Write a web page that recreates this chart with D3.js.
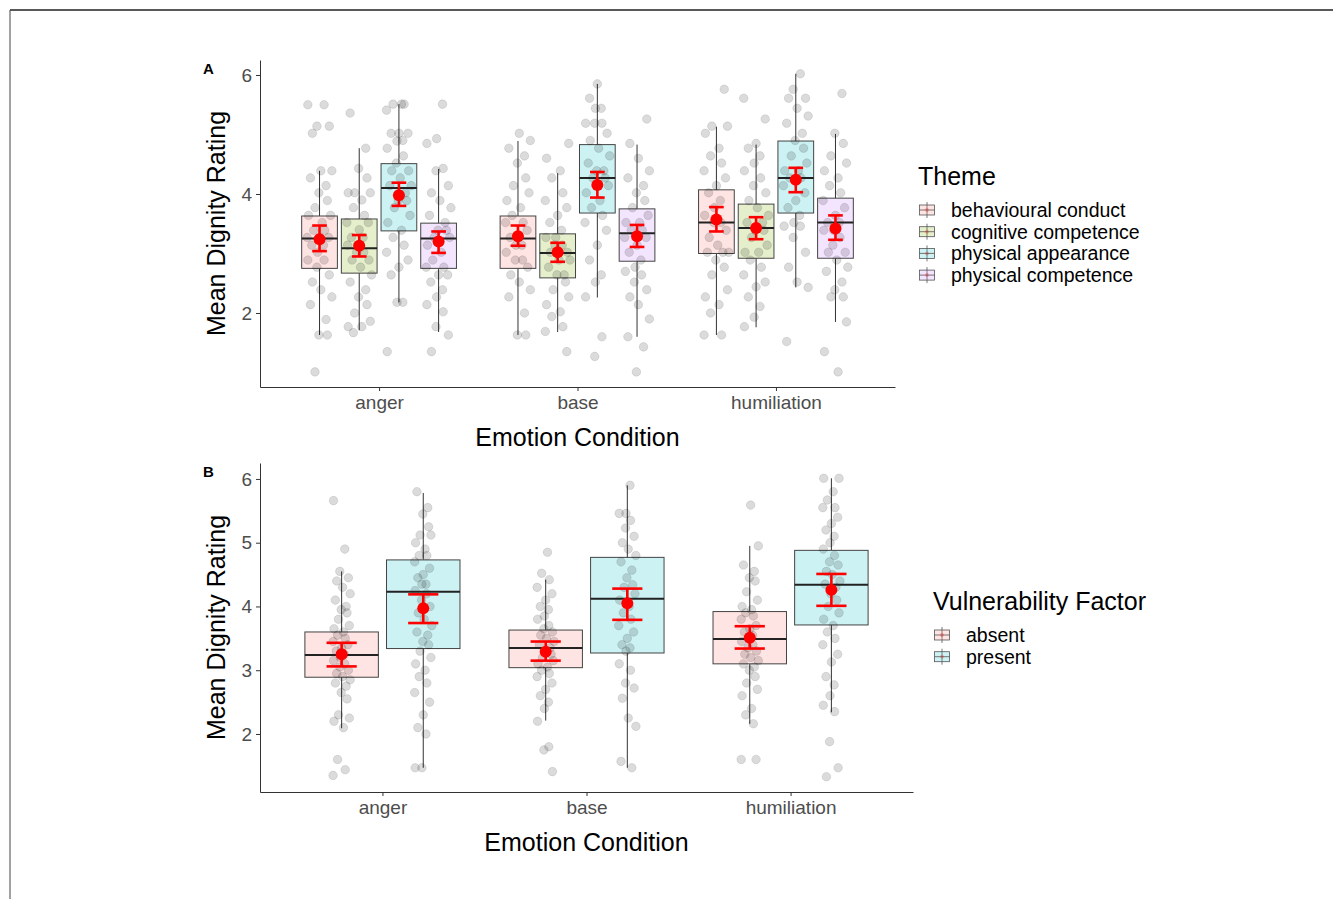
<!DOCTYPE html>
<html lang="en">
<head>
    <meta charset="UTF-8">
    <title>Mean Dignity Rating by Emotion Condition</title>
    <style>
        body {
            margin: 0;
            background: #fff;
            font-family: "Liberation Sans", Arial, sans-serif;
        }
        .tick text {
            fill: #4d4d4d;
            font-size: 19px;
        }
        .tick line, .domain {
            stroke: #333;
        }
        .axis-title {
            font-size: 25px;
            fill: #000;
        }
        .legend-text {
            font-size: 19.5px;
            fill: #000;
        }
    </style>
</head>
<body>
    <svg id="chart" width="1333" height="899"></svg>

    <script src="https://d3js.org/d3.v7.min.js"></script>
    <script>
        // categories
        const emotions = ["anger", "base", "humiliation"];
        const themes = ["behavioural conduct", "cognitive competence", "physical appearance", "physical competence"];
        const vulnLevels = ["absent", "present"];

        const themeColors = ["#F8766D", "#7CAE00", "#00BFC4", "#C77CFF"];
        const vulnColors = ["#F8766D", "#00BFC4"];

        // panel A box stats [emotion][theme]
        const aWhiskLo = [[1.63, 1.71, 2.18, 1.68], [1.63, 1.68, 2.26, 1.60], [1.63, 1.76, 2.43, 1.85]];
        const aQ1 = [[2.75, 2.67, 3.38, 2.75], [2.75, 2.59, 3.68, 2.87], [3.00, 2.92, 3.68, 2.92]];
        const aMed = [[3.25, 3.09, 4.10, 3.25], [3.25, 3.01, 4.27, 3.34], [3.52, 3.43, 4.27, 3.52]];
        const aQ3 = [[3.63, 3.58, 4.51, 3.51], [3.63, 3.33, 4.83, 3.75], [4.07, 3.83, 4.89, 3.93]];
        const aWhiskHi = [[4.39, 4.77, 5.51, 4.42], [4.89, 4.35, 5.85, 4.83], [5.13, 4.83, 6.02, 5.01]];
        const aMean = [[3.24, 3.13, 3.98, 3.20], [3.29, 3.02, 4.15, 3.29], [3.57, 3.43, 4.24, 3.42]];
        const aCiLo = [[3.04, 2.95, 3.80, 3.01], [3.13, 2.86, 3.94, 3.11], [3.37, 3.24, 4.03, 3.23]];
        const aCiHi = [[3.47, 3.31, 4.19, 3.37], [3.47, 3.18, 4.37, 3.48], [3.78, 3.61, 4.44, 3.64]];

        // panel A individual ratings [emotion][theme]
        const aPoints = [
            [
                [5.5, 5.5, 5.14, 5.14, 5.02, 4.39, 4.39, 4.27, 4.14, 4.02, 3.89, 3.77, 3.64, 3.64, 3.52, 3.39, 3.39, 3.27, 3.27, 3.27, 3.14, 3.14, 3.02, 2.89, 2.89, 2.77, 2.64, 2.52, 2.39, 2.27, 2.14, 1.89, 1.63, 1.63, 1.01],
                [5.36, 4.77, 4.43, 4.27, 4.02, 4.02, 4.02, 3.9, 3.77, 3.64, 3.52, 3.52, 3.4, 3.27, 3.27, 3.14, 3.14, 3.02, 3.02, 2.89, 2.89, 2.77, 2.64, 2.52, 2.39, 2.27, 2.14, 2.0, 1.86, 1.77, 1.77, 1.67],
                [5.51, 5.51, 5.51, 5.41, 5.02, 5.02, 5.02, 4.9, 4.89, 4.77, 4.64, 4.52, 4.39, 4.39, 4.27, 4.14, 4.14, 4.02, 3.89, 3.89, 3.77, 3.64, 3.52, 3.39, 3.27, 3.14, 3.02, 2.89, 2.77, 2.64, 2.18, 2.18, 1.35],
                [5.51, 4.93, 4.85, 4.43, 4.39, 4.14, 4.02, 3.89, 3.77, 3.64, 3.52, 3.39, 3.39, 3.27, 3.27, 3.14, 3.02, 2.89, 2.77, 2.77, 2.64, 2.64, 2.52, 2.39, 2.27, 2.14, 2.02, 1.77, 1.63, 1.35]
            ],
            [
                [5.02, 4.9, 4.77, 4.64, 4.52, 4.27, 4.14, 4.02, 3.89, 3.77, 3.64, 3.52, 3.52, 3.39, 3.27, 3.27, 3.14, 3.14, 3.02, 2.89, 2.89, 2.77, 2.64, 2.52, 2.39, 2.27, 2.0, 1.63, 1.63],
                [4.85, 4.6, 4.39, 4.27, 4.02, 3.89, 3.77, 3.64, 3.52, 3.39, 3.27, 3.27, 3.14, 3.14, 3.02, 3.02, 2.89, 2.89, 2.77, 2.64, 2.64, 2.52, 2.39, 2.27, 2.14, 2.02, 1.94, 1.77, 1.69, 1.35],
                [5.85, 5.61, 5.44, 5.44, 5.19, 5.19, 5.19, 5.02, 4.9, 4.77, 4.64, 4.52, 4.39, 4.39, 4.27, 4.27, 4.14, 4.02, 3.89, 3.77, 3.64, 3.52, 3.39, 3.14, 2.89, 2.64, 2.52, 2.27, 1.6, 1.27],
                [5.26, 4.85, 4.6, 4.39, 4.27, 4.14, 4.02, 3.89, 3.77, 3.64, 3.52, 3.52, 3.39, 3.39, 3.27, 3.27, 3.14, 3.02, 2.89, 2.77, 2.7, 2.64, 2.52, 2.39, 2.27, 2.14, 1.9, 1.6, 1.43, 1.01]
            ],
            [
                [5.76, 5.14, 5.14, 5.02, 4.77, 4.64, 4.52, 4.39, 4.27, 4.14, 4.02, 3.89, 3.77, 3.64, 3.52, 3.52, 3.39, 3.27, 3.14, 3.02, 3.02, 3.02, 2.89, 2.77, 2.64, 2.39, 2.27, 2.14, 2.0, 1.63, 1.63],
                [5.61, 5.26, 4.85, 4.77, 4.64, 4.52, 4.39, 4.27, 4.14, 4.02, 3.89, 3.77, 3.64, 3.52, 3.52, 3.39, 3.39, 3.27, 3.14, 3.02, 3.02, 2.89, 2.77, 2.64, 2.52, 2.44, 2.27, 2.11, 1.93, 1.77],
                [6.02, 5.76, 5.61, 5.61, 5.44, 5.31, 5.19, 5.02, 4.9, 4.77, 4.64, 4.52, 4.39, 4.39, 4.27, 4.27, 4.14, 4.02, 3.89, 3.77, 3.64, 3.52, 3.46, 3.46, 3.27, 3.02, 2.77, 2.52, 2.43, 1.52],
                [5.69, 5.02, 4.85, 4.64, 4.52, 4.39, 4.27, 4.14, 4.02, 3.89, 3.77, 3.64, 3.52, 3.52, 3.39, 3.39, 3.27, 3.14, 3.02, 3.02, 2.89, 2.77, 2.7, 2.52, 2.39, 2.27, 2.27, 1.85, 1.35, 1.01]
            ]
        ];

        // panel B box stats [emotion][level]
        const bWhiskLo = [[2.09, 1.47], [2.21, 1.47], [2.16, 2.34]];
        const bQ1 = [[2.89, 3.34], [3.04, 3.27], [3.10, 3.71]];
        const bMed = [[3.24, 4.23], [3.35, 4.12], [3.49, 4.34]];
        const bQ3 = [[3.60, 4.73], [3.63, 4.77], [3.92, 4.88]];
        const bWhiskHi = [[4.55, 5.78], [4.42, 5.90], [4.95, 6.01]];
        const bMean = [[3.25, 3.97], [3.29, 4.05], [3.51, 4.26]];
        const bCiLo = [[3.06, 3.74], [3.15, 3.79], [3.34, 4.01]];
        const bCiHi = [[3.43, 4.19], [3.45, 4.28], [3.69, 4.51]];

        const bPoints = [
            [
                [5.66, 4.9, 4.55, 4.45, 4.4, 4.3, 4.2, 4.1, 4.0, 3.95, 3.9, 3.8, 3.7, 3.65, 3.6, 3.55, 3.5, 3.45, 3.4, 3.35, 3.3, 3.25, 3.2, 3.15, 3.1, 3.05, 3.0, 2.95, 2.9, 2.85, 2.8, 2.75, 2.65, 2.55, 2.3, 2.25, 2.2, 2.1, 1.6, 1.44, 1.35],
                [5.8, 5.55, 5.45, 5.25, 5.12, 5.12, 5.0, 4.9, 4.8, 4.8, 4.7, 4.6, 4.5, 4.45, 4.35, 4.35, 4.25, 4.2, 4.1, 4.0, 3.9, 3.8, 3.7, 3.6, 3.55, 3.45, 3.4, 3.3, 3.2, 3.1, 3.0, 2.9, 2.8, 2.65, 2.5, 2.3, 2.1, 2.0, 1.47, 1.47]
            ],
            [
                [4.85, 4.52, 4.42, 4.3, 4.2, 4.1, 4.0, 3.95, 3.85, 3.8, 3.7, 3.65, 3.6, 3.55, 3.5, 3.45, 3.4, 3.35, 3.3, 3.25, 3.2, 3.15, 3.1, 3.05, 3.0, 2.95, 2.9, 2.8, 2.7, 2.6, 2.5, 2.4, 2.2, 1.8, 1.75, 1.41],
                [5.9, 5.46, 5.46, 5.35, 5.23, 5.1, 5.0, 4.9, 4.8, 4.7, 4.57, 4.45, 4.34, 4.3, 4.2, 4.1, 4.0, 3.9, 3.8, 3.7, 3.6, 3.5, 3.4, 3.35, 3.3, 3.1, 3.0, 2.8, 2.72, 2.56, 2.25, 2.12, 1.57, 1.47]
            ],
            [
                [5.59, 4.95, 4.65, 4.55, 4.45, 4.4, 4.23, 4.1, 4.0, 3.95, 3.9, 3.85, 3.8, 3.7, 3.65, 3.6, 3.55, 3.5, 3.45, 3.4, 3.35, 3.3, 3.25, 3.2, 3.15, 3.1, 3.05, 3.0, 2.9, 2.8, 2.7, 2.6, 2.4, 2.3, 2.16, 1.6, 1.6],
                [6.01, 6.01, 5.8, 5.67, 5.55, 5.55, 5.4, 5.3, 5.2, 5.1, 5.0, 4.9, 4.8, 4.7, 4.65, 4.55, 4.5, 4.4, 4.35, 4.3, 4.2, 4.1, 4.0, 3.9, 3.8, 3.7, 3.6, 3.5, 3.4, 3.25, 3.13, 2.9, 2.77, 2.6, 2.45, 2.35, 1.88, 1.47, 1.33]
            ]
        ];

        // fixed spread pattern for the jittered points (fraction of jitter width)
        const JITTER = [-0.9, 0.35, -0.2, 0.75, -0.55, 0.1, 0.95, -0.7, 0.5, -0.05, 0.6, -0.35, 0.85, -0.85, 0.2, -0.45, 0.4, -0.95, 0.7, 0, -0.6, 0.3, -0.15];

        const svg = d3.select("#chart");

        // page frame
        svg.append("line").attr("x1", 10).attr("x2", 1333).attr("y1", 10).attr("y2", 10)
            .attr("stroke", "#222").attr("stroke-width", 1.6);
        svg.append("line").attr("x1", 10).attr("x2", 10).attr("y1", 10).attr("y2", 899)
            .attr("stroke", "#444").attr("stroke-width", 1);

        function drawPanel(p) {
            const g = svg.append("g");
            const x = d3.scaleLinear().domain([0.4, 3.6]).range([p.left, p.right]);
            const y = d3.scaleLinear().domain(p.yDomain).range([p.bottom, p.top]);
            const n = p.groups.length;
            const slot = 0.8 / n;
            const px = (i, j) => x(i + 1 + (j - (n - 1) / 2) * slot);
            const boxW = x(0.4 + slot * 0.9) - x(0.4);
            const barW = x(0.4 + slot * 0.37) - x(0.4);

            // boxes
            emotions.forEach((em, i) => {
                p.groups.forEach((grp, j) => {
                    const cx = px(i, j);
                    g.append("line").attr("x1", cx).attr("x2", cx)
                        .attr("y1", y(p.whiskHi[i][j])).attr("y2", y(p.q3[i][j]))
                        .attr("stroke", "#333").attr("stroke-width", 1);
                    g.append("line").attr("x1", cx).attr("x2", cx)
                        .attr("y1", y(p.q1[i][j])).attr("y2", y(p.whiskLo[i][j]))
                        .attr("stroke", "#333").attr("stroke-width", 1);
                    g.append("rect")
                        .attr("x", cx - boxW / 2).attr("width", boxW)
                        .attr("y", y(p.q3[i][j])).attr("height", y(p.q1[i][j]) - y(p.q3[i][j]))
                        .attr("fill", p.colors[j]).attr("fill-opacity", 0.2)
                        .attr("stroke", "#444").attr("stroke-width", 1);
                });
            });

            // jittered points
            emotions.forEach((em, i) => {
                p.groups.forEach((grp, j) => {
                    const k = i * n + j;
                    g.append("g").selectAll("circle")
                        .data(p.points[i][j])
                        .join("circle")
                        .attr("cx", (d, idx) => px(i, j) + JITTER[(idx + k * 7) % JITTER.length] * p.jitter)
                        .attr("cy", d => y(d))
                        .attr("r", 4.3)
                        .attr("fill", "#000").attr("fill-opacity", 0.14)
                        .attr("stroke", "#000").attr("stroke-opacity", 0.12).attr("stroke-width", 0.8);
                });
            });

            // medians, means and CI bars
            emotions.forEach((em, i) => {
                p.groups.forEach((grp, j) => {
                    const cx = px(i, j);
                    g.append("line").attr("x1", cx - boxW / 2).attr("x2", cx + boxW / 2)
                        .attr("y1", y(p.med[i][j])).attr("y2", y(p.med[i][j]))
                        .attr("stroke", "#222").attr("stroke-width", 2);
                    const ci = g.append("g").attr("stroke", "#ff0000").attr("stroke-width", 2.6);
                    ci.append("line").attr("x1", cx).attr("x2", cx)
                        .attr("y1", y(p.ciHi[i][j])).attr("y2", y(p.ciLo[i][j]));
                    ci.append("line").attr("x1", cx - barW / 2).attr("x2", cx + barW / 2)
                        .attr("y1", y(p.ciHi[i][j])).attr("y2", y(p.ciHi[i][j]));
                    ci.append("line").attr("x1", cx - barW / 2).attr("x2", cx + barW / 2)
                        .attr("y1", y(p.ciLo[i][j])).attr("y2", y(p.ciLo[i][j]));
                    g.append("circle").attr("cx", cx).attr("cy", y(p.mean[i][j]))
                        .attr("r", 6).attr("fill", "#ff0000");
                });
            });

            // axes
            g.append("g")
                .attr("transform", `translate(${p.left},0)`)
                .call(d3.axisLeft(y).tickValues(p.yTicks).tickFormat(d3.format("d"))
                    .tickSize(4).tickSizeOuter(0).tickPadding(4));
            g.append("g")
                .attr("transform", `translate(0,${p.bottom})`)
                .call(d3.axisBottom(x).tickValues([1, 2, 3]).tickFormat(d => emotions[d - 1])
                    .tickSize(4).tickSizeOuter(0).tickPadding(5));
            g.selectAll(".domain").attr("stroke", "#333");

            g.append("text").attr("class", "axis-title")
                .attr("x", (p.left + p.right) / 2).attr("y", p.bottom + 59)
                .attr("text-anchor", "middle").text("Emotion Condition");
            g.append("text").attr("class", "axis-title")
                .attr("transform", `translate(225,${(p.top + p.bottom) / 2}) rotate(-90)`)
                .attr("text-anchor", "middle").text("Mean Dignity Rating");

            g.append("text").attr("x", 203).attr("y", p.top + 14)
                .attr("font-size", 15).attr("font-weight", "bold").text(p.tag);

            // legend
            const lg = g.append("g");
            lg.append("text").attr("class", "axis-title")
                .attr("x", p.legendX).attr("y", p.legendY).text(p.legendTitle);
            p.groups.forEach((grp, j) => {
                const cy = p.legendY + 25 + j * 21.7;
                const kx = p.legendX + 9;
                lg.append("line").attr("x1", kx).attr("x2", kx).attr("y1", cy - 8).attr("y2", cy + 8)
                    .attr("stroke", "#555").attr("stroke-width", 0.8);
                lg.append("rect").attr("x", kx - 7.5).attr("y", cy - 5).attr("width", 15).attr("height", 10)
                    .attr("fill", p.colors[j]).attr("fill-opacity", 0.2)
                    .attr("stroke", "#555").attr("stroke-width", 0.8);
                lg.append("line").attr("x1", kx - 7.5).attr("x2", kx + 7.5).attr("y1", cy).attr("y2", cy)
                    .attr("stroke", "#555").attr("stroke-width", 0.8);
                lg.append("circle").attr("cx", kx).attr("cy", cy).attr("r", 2)
                    .attr("fill", "#ff0000").attr("fill-opacity", 0.25);
                lg.append("text").attr("class", "legend-text")
                    .attr("x", p.legendX + 33).attr("y", cy + 7).text(grp);
            });
        }

        drawPanel({
            tag: "A", left: 260, right: 895, top: 60, bottom: 387,
            yDomain: [0.756, 6.252], yTicks: [2, 4, 6],
            groups: themes, colors: themeColors, jitter: 13,
            whiskLo: aWhiskLo, q1: aQ1, med: aMed, q3: aQ3, whiskHi: aWhiskHi,
            mean: aMean, ciLo: aCiLo, ciHi: aCiHi, points: aPoints,
            legendTitle: "Theme", legendX: 918, legendY: 185
        });

        drawPanel({
            tag: "B", left: 260, right: 913, top: 463, bottom: 792,
            yDomain: [1.09, 6.25], yTicks: [2, 3, 4, 5, 6],
            groups: vulnLevels, colors: vulnColors, jitter: 9,
            whiskLo: bWhiskLo, q1: bQ1, med: bMed, q3: bQ3, whiskHi: bWhiskHi,
            mean: bMean, ciLo: bCiLo, ciHi: bCiHi, points: bPoints,
            legendTitle: "Vulnerability Factor", legendX: 933, legendY: 610
        });
    </script>
</body>
</html>
